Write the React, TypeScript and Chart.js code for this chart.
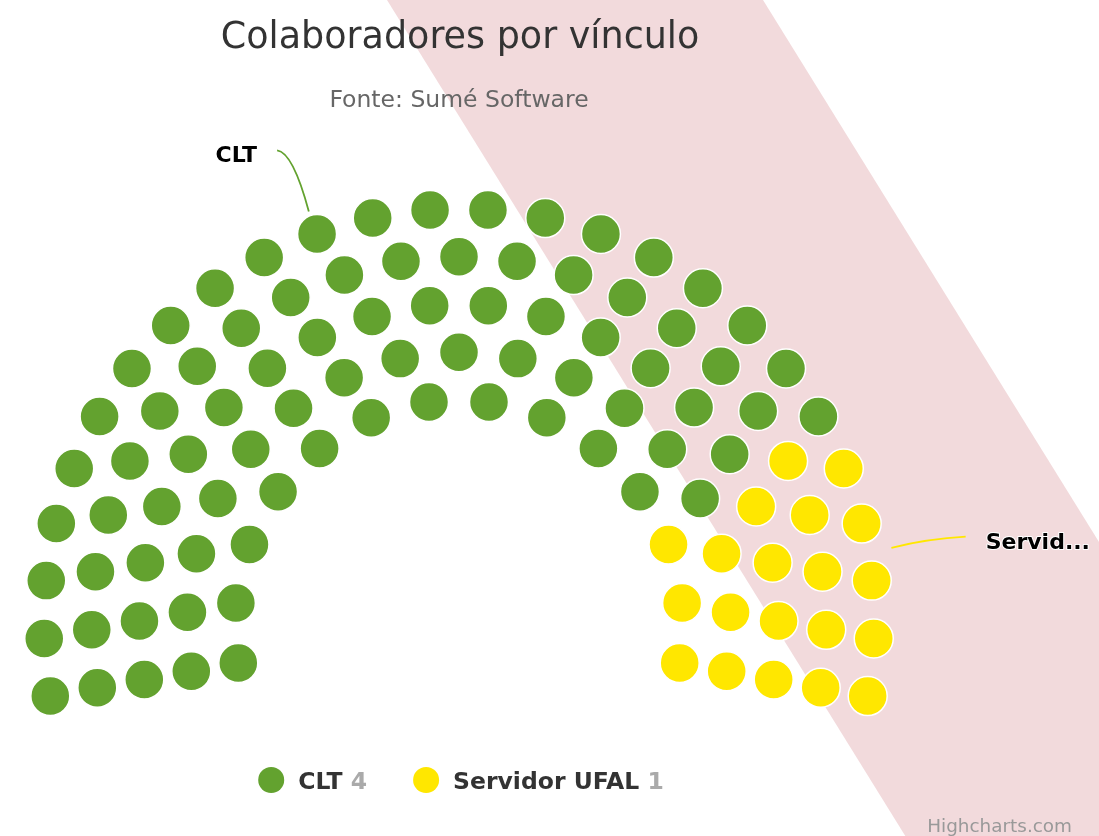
import React, { useEffect, useRef } from "react";
import { Chart, registerables } from "chart.js";

Chart.register(...registerables);

// ---------- data ----------
const TITLE = "Colaboradores por vínculo";
const SUBTITLE = "Fonte: Sumé Software";
const CREDITS = "Highcharts.com";
const seriesNames = ["CLT", "Servidor UFAL"];
const seriesItems = [80, 20]; // items (seats) drawn per series
const legendValues = [4, 1];
const seriesColors = ["#63a22f", "#ffe700"];

// ---------- parliament layout settings ----------
const ROWS = 5;
const INNER_RATIO = 0.54;
const START_ANGLE = -100;
const END_ANGLE = 100;

const FONT = '"DejaVu Sans", Verdana, sans-serif';
const W = 1099;
const H = 836;

const toRad = (d: number) => (d * Math.PI) / 180;

function parliamentSlots(total: number) {
  const radii: number[] = [];
  for (let i = 0; i < ROWS; i++) radii.push(INNER_RATIO + ((1 - INNER_RATIO) * i) / (ROWS - 1));
  const sumR = radii.reduce((a, b) => a + b, 0);
  const counts = radii.map((r) => Math.round((total * r) / sumR));
  counts[ROWS - 1] += total - counts.reduce((a, b) => a + b, 0);
  const slots: { r: number; a: number }[] = [];
  radii.forEach((r, i) => {
    const n = counts[i];
    for (let j = 0; j < n; j++) {
      const a = n === 1 ? (START_ANGLE + END_ANGLE) / 2 : START_ANGLE + ((END_ANGLE - START_ANGLE) * j) / (n - 1);
      slots.push({ r, a });
    }
  });
  slots.sort((p, q) => p.a - q.a || p.r - q.r);
  return slots;
}

function buildDatasets() {
  const total = seriesItems.reduce((a, b) => a + b, 0);
  const slots = parliamentSlots(total);
  let idx = 0;
  return seriesItems.map((n, s) => {
    const pts = slots.slice(idx, idx + n).map((p) => ({
      x: p.r * Math.sin(toRad(p.a)),
      y: p.r * Math.cos(toRad(p.a)),
    }));
    idx += n;
    return {
      label: seriesNames[s],
      data: pts,
      backgroundColor: seriesColors[s],
      borderColor: "#ffffff",
      pointRadius: 19.5,
      pointHoverRadius: 19.5,
      pointBorderWidth: 1.5,
      pointHoverBorderWidth: 1.5,
      showLine: false,
      clip: false,
    };
  });
}

const decorPlugin = {
  id: "decor",
  beforeDraw(chart: any) {
    const ctx = chart.ctx;
    ctx.save();
    ctx.fillStyle = "#f2dadc";
    const slope = 0.62;
    ctx.beginPath();
    ctx.moveTo(387, 0);
    ctx.lineTo(763, 0);
    ctx.lineTo(763 + slope * H, H);
    ctx.lineTo(387 + slope * H, H);
    ctx.closePath();
    ctx.fill();
    ctx.restore();
  },
  afterDraw(chart: any) {
    const ctx = chart.ctx;
    const xs = chart.scales.x;
    const ys = chart.scales.y;
    const cx = xs.getPixelForValue(0);
    const cy = ys.getPixelForValue(0);
    const R = xs.getPixelForValue(1) - cx;
    ctx.save();

    // title + subtitle
    ctx.textAlign = "center";
    ctx.textBaseline = "alphabetic";
    ctx.fillStyle = "#333333";
    ctx.font = `36.5px ${FONT}`;
    ctx.fillText(TITLE, cx + 1, 48);
    ctx.fillStyle = "#666666";
    ctx.font = `23.5px ${FONT}`;
    ctx.fillText(SUBTITLE, cx, 107);

    // data labels with connectors
    const total = seriesItems.reduce((a, b) => a + b, 0);
    let cum = 0;
    seriesItems.forEach((n, s) => {
      const mid = START_ANGLE + ((END_ANGLE - START_ANGLE) * (cum + n / 2)) / total;
      cum += n;
      const right = mid > 0;
      const a = toRad(mid);
      const ax = cx + R * 1.058 * Math.sin(a);
      const ay = cy - R * 1.058 * Math.cos(a);
      const ex = cx + R * 1.225 * Math.sin(a) + (right ? 6 : -8);
      const ey = cy - R * 1.225 * Math.cos(a) + (right ? 1 : 4);
      ctx.strokeStyle = seriesColors[s];
      ctx.lineWidth = 1.8;
      ctx.beginPath();
      ctx.moveTo(ex, ey);
      ctx.quadraticCurveTo(ex + 0.5 * (ax - ex), ey + 2, ax, ay);
      ctx.stroke();

      ctx.font = `bold 22px ${FONT}`;
      ctx.fillStyle = "#000000";
      let txt = seriesNames[s];
      const lx = right ? ex + 20 : ex - 20;
      const avail = right ? W - lx - 2 : lx - 2;
      if (ctx.measureText(txt).width > avail) {
        let t = txt;
        while (t.length > 1 && ctx.measureText(t + "...").width > avail) t = t.slice(0, -1);
        txt = t + "...";
      }
      ctx.textAlign = right ? "left" : "right";
      ctx.lineWidth = 2;
      ctx.strokeStyle = "#ffffff";
      ctx.lineJoin = "round";
      ctx.strokeText(txt, lx, ey + 12);
      ctx.fillText(txt, lx, ey + 12);
    });

    // legend
    ctx.font = `bold 23.5px ${FONT}`;
    ctx.textAlign = "left";
    const spaceW = ctx.measureText(" ").width;
    const items = seriesNames.map((name, i) => {
      const nw = ctx.measureText(name).width;
      const vw = ctx.measureText(String(legendValues[i])).width;
      return { name, nw, vw, w: 40 + nw + spaceW + vw };
    });
    const gap = 46;
    const totalW = items.reduce((a, b) => a + b.w, 0) + gap * (items.length - 1);
    let x = cx + 2 - totalW / 2;
    const ly = 780;
    items.forEach((it, i) => {
      ctx.fillStyle = seriesColors[i];
      ctx.beginPath();
      ctx.arc(x + 13, ly, 13, 0, Math.PI * 2);
      ctx.fill();
      ctx.fillStyle = "#333333";
      ctx.fillText(it.name, x + 40, ly + 9);
      ctx.fillStyle = "#aaaaaa";
      ctx.fillText(String(legendValues[i]), x + 40 + it.nw + spaceW, ly + 9);
      x += it.w + gap;
    });

    // credits
    ctx.font = `18.4px ${FONT}`;
    ctx.fillStyle = "#999999";
    ctx.textAlign = "right";
    ctx.fillText(CREDITS, 1072, 832);

    ctx.restore();
  },
};

export default function App() {
  const ref = useRef<HTMLCanvasElement | null>(null);
  useEffect(() => {
    document.body.style.margin = "0";
    if (!ref.current) return;
    // center of the hemicycle at (459, 624) px with outer radius 415 px
    const C_X = 459, C_Y = 624, RPX = 415;
    const chart = new Chart(ref.current, {
      type: "scatter",
      data: { datasets: buildDatasets() as any },
      options: {
        responsive: false,
        animation: false,
        devicePixelRatio: 1,
        events: [],
        layout: { padding: 0, autoPadding: false },
        scales: {
          x: { type: "linear", display: false, min: -C_X / RPX, max: (W - C_X) / RPX },
          y: { type: "linear", display: false, min: -(H - C_Y) / RPX, max: C_Y / RPX },
        },
        plugins: {
          legend: { display: false },
          tooltip: { enabled: false },
          title: { display: false },
        },
      },
      plugins: [decorPlugin],
    });
    return () => chart.destroy();
  }, []);
  return (
    <div style={{ width: W, height: H, position: "relative" }}>
      <canvas ref={ref} width={W} height={H} style={{ display: "block" }} />
    </div>
  );
}
